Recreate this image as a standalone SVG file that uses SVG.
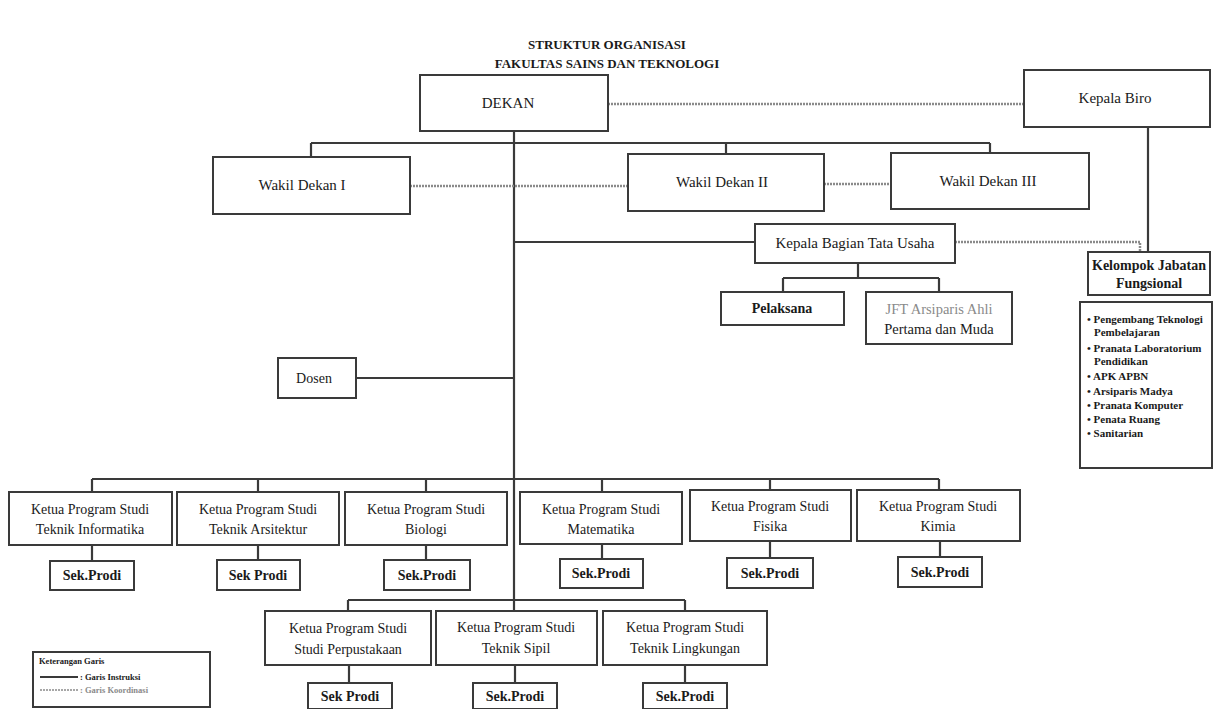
<svg xmlns="http://www.w3.org/2000/svg" width="1214" height="709" viewBox="0 0 1214 709">
<style>
text{font-family:"Liberation Serif","Times New Roman",serif;fill:#1a1a1a;text-anchor:middle}
.box{fill:#fff;stroke:#3a3a3a;stroke-width:2}
.ln{fill:none;stroke:#3a3a3a;stroke-width:2.2}
.dl{fill:none;stroke:#8a8a8a;stroke-width:2.5;stroke-dasharray:2 1}
.t1{font-size:13px;font-weight:bold}
.n{font-size:15px}
.j{font-size:14.5px}
.p{font-size:14px}
.s{font-size:14px;font-weight:bold}
.k{font-size:14px}
.li{font-size:11px;font-weight:bold;text-anchor:start}
.lg{font-size:8.5px;font-weight:bold;text-anchor:start}
</style>
<rect width="1214" height="709" fill="#fff"/>
<g id="title">
<text class="t1" x="607" y="49">STRUKTUR ORGANISASI</text>
<text class="t1" x="607" y="68">FAKULTAS SAINS DAN TEKNOLOGI</text>
</g>
<g id="connectors">
<path class="ln" d="M514 131V611"/>
<path class="ln" d="M311 143H990M311 143V157M726 143V154M990 143V153"/>
<path class="ln" d="M514 242H755"/>
<path class="ln" d="M858 263V278M783 278H939M783 278V292M939 278V292"/>
<path class="ln" d="M1148 127V252"/>
<path class="ln" d="M356 378H514"/>
<path class="ln" d="M92 479H939M92 479V492M258 479V492M426 479V492M602 479V492M770 479V490M939 479V490"/>
<path class="ln" d="M92 545V561M258 545V560M426 545V560M602 544V559M770 541V558M940 541V557"/>
<path class="ln" d="M348 600H685M348 600V611M685 600V611"/>
<path class="ln" d="M349 665V683M515 665V683M685 665V683"/>
<path class="dl" d="M608 104H1024"/>
<path class="dl" d="M410 186H628"/>
<path class="dl" d="M824 184H891"/>
<path class="dl" d="M955 242H1140V252"/>
</g>
<g id="dekan"><rect class="box" x="420" y="75" width="188" height="56"/><text class="n" x="508" y="108">DEKAN</text></g>
<g id="kepala-biro"><rect class="box" x="1024" y="70" width="186" height="57"/><text class="n" x="1115" y="103">Kepala Biro</text></g>
<g id="wakil-dekan-1"><rect class="box" x="213" y="157" width="197" height="57"/><text class="n" x="302" y="190">Wakil Dekan I</text></g>
<g id="wakil-dekan-2"><rect class="box" x="628" y="154" width="196" height="57"/><text class="n" x="722" y="187">Wakil Dekan II</text></g>
<g id="wakil-dekan-3"><rect class="box" x="891" y="153" width="198" height="56"/><text class="n" x="988" y="186">Wakil Dekan III</text></g>
<g id="kabag-tu"><rect class="box" x="755" y="224" width="200" height="39"/><text class="n" x="855" y="248">Kepala Bagian Tata Usaha</text></g>
<g id="pelaksana"><rect class="box" x="721" y="292" width="123" height="33"/><text class="s" x="782" y="313">Pelaksana</text></g>
<g id="jft-arsiparis"><rect class="box" x="866" y="292" width="146" height="52"/><text class="j" x="939" y="314" style="fill:#8a8a8a">JFT Arsiparis Ahli</text><text class="j" x="939" y="334">Pertama dan Muda</text></g>
<g id="kelompok-jf"><rect class="box" x="1088" y="252" width="122" height="43"/><text class="s" x="1149" y="270">Kelompok Jabatan</text><text class="s" x="1149" y="288">Fungsional</text></g>
<g id="daftar-jf"><rect class="box" x="1080" y="302" width="132" height="166"/>
<text class="li" x="1087" y="323">• Pengembang Teknologi</text>
<text class="li" x="1094" y="336">Pembelajaran</text>
<text class="li" x="1087" y="352">• Pranata Laboratorium</text>
<text class="li" x="1094" y="365">Pendidikan</text>
<text class="li" x="1087" y="380">• APK APBN</text>
<text class="li" x="1087" y="395">• Arsiparis Madya</text>
<text class="li" x="1087" y="409">• Pranata Komputer</text>
<text class="li" x="1087" y="423">• Penata Ruang</text>
<text class="li" x="1087" y="437">• Sanitarian</text>
</g>
<g id="dosen"><rect class="box" x="278" y="358" width="78" height="40"/><text class="p" x="314" y="383">Dosen</text></g>
<g id="kps-ti"><rect class="box" x="9" y="492" width="163" height="53"/><text class="p" x="90" y="514">Ketua Program Studi</text><text class="p" x="90" y="534">Teknik Informatika</text></g>
<g id="kps-ta"><rect class="box" x="177" y="492" width="162" height="53"/><text class="p" x="258" y="514">Ketua Program Studi</text><text class="p" x="258" y="534">Teknik Arsitektur</text></g>
<g id="kps-bio"><rect class="box" x="345" y="492" width="162" height="53"/><text class="p" x="426" y="514">Ketua Program Studi</text><text class="p" x="426" y="534">Biologi</text></g>
<g id="kps-mat"><rect class="box" x="520" y="492" width="162" height="52"/><text class="p" x="601" y="514">Ketua Program Studi</text><text class="p" x="601" y="534">Matematika</text></g>
<g id="kps-fis"><rect class="box" x="690" y="490" width="161" height="51"/><text class="p" x="770" y="511">Ketua Program Studi</text><text class="p" x="770" y="531">Fisika</text></g>
<g id="kps-kim"><rect class="box" x="857" y="490" width="163" height="51"/><text class="p" x="938" y="511">Ketua Program Studi</text><text class="p" x="938" y="531">Kimia</text></g>
<g id="sek-ti"><rect class="box" x="50" y="561" width="84" height="29"/><text class="s" x="92" y="580">Sek.Prodi</text></g>
<g id="sek-ta"><rect class="box" x="217" y="560" width="83" height="30"/><text class="s" x="258" y="580">Sek Prodi</text></g>
<g id="sek-bio"><rect class="box" x="384" y="560" width="86" height="30"/><text class="s" x="427" y="580">Sek.Prodi</text></g>
<g id="sek-mat"><rect class="box" x="560" y="559" width="83" height="29"/><text class="s" x="601" y="578">Sek.Prodi</text></g>
<g id="sek-fis"><rect class="box" x="727" y="558" width="86" height="30"/><text class="s" x="770" y="578">Sek.Prodi</text></g>
<g id="sek-kim"><rect class="box" x="898" y="557" width="84" height="30"/><text class="s" x="940" y="577">Sek.Prodi</text></g>
<g id="kps-sp"><rect class="box" x="265" y="611" width="166" height="54"/><text class="p" x="348" y="633">Ketua Program Studi</text><text class="p" x="348" y="654">Studi Perpustakaan</text></g>
<g id="kps-ts"><rect class="box" x="436" y="611" width="161" height="54"/><text class="p" x="516" y="632">Ketua Program Studi</text><text class="p" x="516" y="653">Teknik Sipil</text></g>
<g id="kps-tl"><rect class="box" x="603" y="611" width="164" height="54"/><text class="p" x="685" y="632">Ketua Program Studi</text><text class="p" x="685" y="653">Teknik Lingkungan</text></g>
<g id="sek-sp"><rect class="box" x="308" y="683" width="84" height="26"/><text class="s" x="350" y="701">Sek Prodi</text></g>
<g id="sek-ts"><rect class="box" x="473" y="683" width="84" height="26"/><text class="s" x="515" y="701">Sek.Prodi</text></g>
<g id="sek-tl"><rect class="box" x="643" y="683" width="84" height="26"/><text class="s" x="685" y="701">Sek.Prodi</text></g>
<g id="legend"><rect class="box" x="33" y="652" width="177" height="55"/>
<text class="lg" x="39" y="664">Keterangan Garis</text>
<path class="ln" d="M40 677H78"/>
<text class="lg" x="80" y="680">: Garis Instruksi</text>
<path class="dl" d="M40 690H78" style="stroke-width:1.5"/>
<text class="lg" x="80" y="693" style="fill:#8a8a8a">: Garis Koordinasi</text>
</g>
</svg>
